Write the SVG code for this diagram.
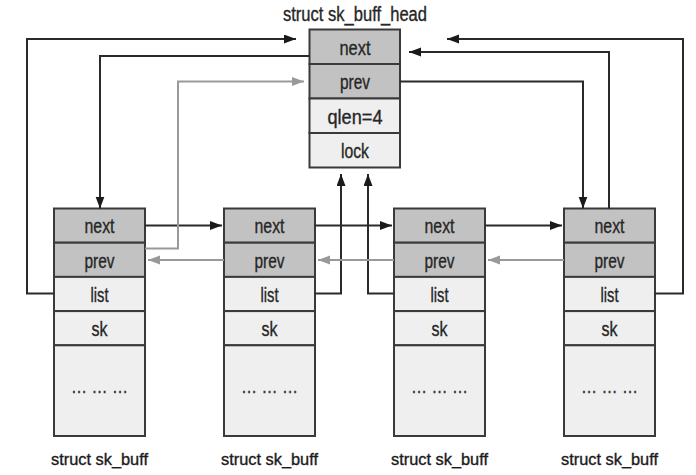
<svg xmlns="http://www.w3.org/2000/svg" width="696" height="475" viewBox="0 0 696 475">
<style>
  .dk { fill: #c2c2c2; stroke: #3a3a3a; stroke-width: 2; }
  .lt { fill: #efefef; stroke: #3a3a3a; stroke-width: 2; }
  .t { font-family: "Liberation Sans", Arial, sans-serif; font-size: 20px; fill: #262626; stroke: #262626; stroke-width: 0.35; text-anchor: middle; }
  .cap { font-family: "Liberation Sans", Arial, sans-serif; font-size: 16.5px; fill: #1a1a1a; stroke: #1a1a1a; stroke-width: 0.35; text-anchor: middle; }
  .dots { font-family: "Liberation Sans", Arial, sans-serif; font-size: 18px; fill: #333; stroke: #333; stroke-width: 0.3; text-anchor: middle; }
  .b { fill: none; stroke: #2a2a2a; stroke-width: 2; marker-end: url(#ab); }
  .g { fill: none; stroke: #999999; stroke-width: 2; marker-end: url(#ag); }
</style>
<defs>
  <marker id="ab" markerUnits="userSpaceOnUse" markerWidth="13" markerHeight="10" refX="12" refY="4.5" orient="auto">
    <path d="M0,0 L12,4.5 L0,9 z" fill="#1a1a1a"/>
  </marker>
  <marker id="ag" markerUnits="userSpaceOnUse" markerWidth="13" markerHeight="10" refX="12" refY="4.5" orient="auto">
    <path d="M0,0 L12,4.5 L0,9 z" fill="#999999"/>
  </marker>
</defs>
<rect width="696" height="475" fill="#ffffff"/>

<g id="head">
  <text class="t" x="355" y="21" font-size="18" textLength="144" lengthAdjust="spacingAndGlyphs">struct sk_buff_head</text>
  <rect class="dk" x="309.5" y="29.5" width="90.5" height="34.5"/>
  <rect class="dk" x="309.5" y="64" width="90.5" height="34.5"/>
  <rect class="lt" x="309.5" y="98.5" width="90.5" height="34.5"/>
  <rect class="lt" x="309.5" y="133" width="90.5" height="34.5"/>
  <text class="t" x="355" y="54.5" textLength="31" lengthAdjust="spacingAndGlyphs">next</text>
  <text class="t" x="355" y="89" textLength="30" lengthAdjust="spacingAndGlyphs">prev</text>
  <text class="t" x="355" y="123.5" textLength="55" lengthAdjust="spacingAndGlyphs">qlen=4</text>
  <text class="t" x="355" y="158" textLength="28" lengthAdjust="spacingAndGlyphs">lock</text>
</g>

<g id="skb1" transform="translate(54,0)">
  <rect class="dk" x="0" y="208.5" width="91" height="34.2"/>
  <rect class="dk" x="0" y="242.7" width="91" height="34.2"/>
  <rect class="lt" x="0" y="276.9" width="91" height="34.2"/>
  <rect class="lt" x="0" y="311.1" width="91" height="34.2"/>
  <rect class="lt" x="0" y="345.3" width="91" height="90.7"/>
  <text class="t" x="45.5" y="233.3" textLength="30" lengthAdjust="spacingAndGlyphs">next</text>
  <text class="t" x="45.5" y="267.5" textLength="30" lengthAdjust="spacingAndGlyphs">prev</text>
  <text class="t" x="45.5" y="301.7" textLength="18" lengthAdjust="spacingAndGlyphs">list</text>
  <text class="t" x="45.5" y="336" textLength="16" lengthAdjust="spacingAndGlyphs">sk</text>
  <text class="dots" x="45.5" y="393" textLength="57" lengthAdjust="spacingAndGlyphs">… … …</text>
  <text class="cap" x="45.5" y="465" textLength="97" lengthAdjust="spacingAndGlyphs">struct sk_buff</text>
</g>

<g id="skb2" transform="translate(224,0)">
  <rect class="dk" x="0" y="208.5" width="91" height="34.2"/>
  <rect class="dk" x="0" y="242.7" width="91" height="34.2"/>
  <rect class="lt" x="0" y="276.9" width="91" height="34.2"/>
  <rect class="lt" x="0" y="311.1" width="91" height="34.2"/>
  <rect class="lt" x="0" y="345.3" width="91" height="90.7"/>
  <text class="t" x="45.5" y="233.3" textLength="30" lengthAdjust="spacingAndGlyphs">next</text>
  <text class="t" x="45.5" y="267.5" textLength="30" lengthAdjust="spacingAndGlyphs">prev</text>
  <text class="t" x="45.5" y="301.7" textLength="18" lengthAdjust="spacingAndGlyphs">list</text>
  <text class="t" x="45.5" y="336" textLength="16" lengthAdjust="spacingAndGlyphs">sk</text>
  <text class="dots" x="45.5" y="393" textLength="57" lengthAdjust="spacingAndGlyphs">… … …</text>
  <text class="cap" x="45.5" y="465" textLength="97" lengthAdjust="spacingAndGlyphs">struct sk_buff</text>
</g>

<g id="skb3" transform="translate(394,0)">
  <rect class="dk" x="0" y="208.5" width="91" height="34.2"/>
  <rect class="dk" x="0" y="242.7" width="91" height="34.2"/>
  <rect class="lt" x="0" y="276.9" width="91" height="34.2"/>
  <rect class="lt" x="0" y="311.1" width="91" height="34.2"/>
  <rect class="lt" x="0" y="345.3" width="91" height="90.7"/>
  <text class="t" x="45.5" y="233.3" textLength="30" lengthAdjust="spacingAndGlyphs">next</text>
  <text class="t" x="45.5" y="267.5" textLength="30" lengthAdjust="spacingAndGlyphs">prev</text>
  <text class="t" x="45.5" y="301.7" textLength="18" lengthAdjust="spacingAndGlyphs">list</text>
  <text class="t" x="45.5" y="336" textLength="16" lengthAdjust="spacingAndGlyphs">sk</text>
  <text class="dots" x="45.5" y="393" textLength="57" lengthAdjust="spacingAndGlyphs">… … …</text>
  <text class="cap" x="45.5" y="465" textLength="97" lengthAdjust="spacingAndGlyphs">struct sk_buff</text>
</g>

<g id="skb4" transform="translate(564,0)">
  <rect class="dk" x="0" y="208.5" width="91" height="34.2"/>
  <rect class="dk" x="0" y="242.7" width="91" height="34.2"/>
  <rect class="lt" x="0" y="276.9" width="91" height="34.2"/>
  <rect class="lt" x="0" y="311.1" width="91" height="34.2"/>
  <rect class="lt" x="0" y="345.3" width="91" height="90.7"/>
  <text class="t" x="45.5" y="233.3" textLength="30" lengthAdjust="spacingAndGlyphs">next</text>
  <text class="t" x="45.5" y="267.5" textLength="30" lengthAdjust="spacingAndGlyphs">prev</text>
  <text class="t" x="45.5" y="301.7" textLength="18" lengthAdjust="spacingAndGlyphs">list</text>
  <text class="t" x="45.5" y="336" textLength="16" lengthAdjust="spacingAndGlyphs">sk</text>
  <text class="dots" x="45.5" y="393" textLength="57" lengthAdjust="spacingAndGlyphs">… … …</text>
  <text class="cap" x="45.5" y="465" textLength="97" lengthAdjust="spacingAndGlyphs">struct sk_buff</text>
</g>

<g id="connectors">
  <path class="b" d="M54,293.5 H27 V39 H296"/>
  <path class="b" d="M309.5,56 H100 V208.5"/>
  <path class="b" d="M400,81.5 H583 V208.5"/>
  <path class="b" d="M609,208.5 V52 H409"/>
  <path class="b" d="M655,293.5 H683 V39 H447"/>
  <path class="b" d="M145,225.5 H222"/>
  <path class="b" d="M315,225.5 H392"/>
  <path class="b" d="M485,225.5 H562"/>
  <path class="b" d="M315,293.5 H341 V174"/>
  <path class="b" d="M394,293.5 H368 V174"/>
  <path class="g" d="M145,248.5 H178 V81.5 H304"/>
  <path class="g" d="M224,260 H148"/>
  <path class="g" d="M394,260 H318"/>
  <path class="g" d="M564,260 H488"/>
</g>
</svg>
